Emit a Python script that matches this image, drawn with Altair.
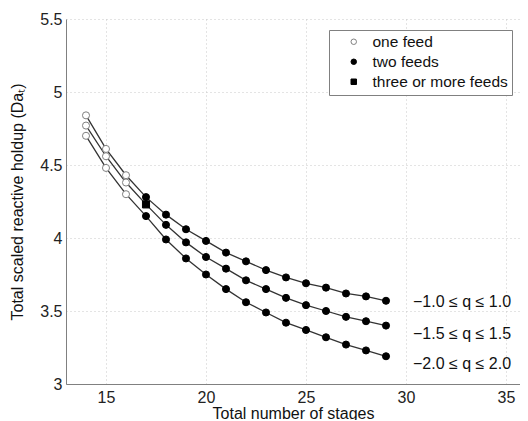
import altair as alt
import pandas as pd

stages = list(range(14, 30))
curve_names = ["−1.0 ≤ q ≤ 1.0", "−1.5 ≤ q ≤ 1.5", "−2.0 ≤ q ≤ 2.0"]
holdup_top = [4.84, 4.61, 4.43, 4.28, 4.16, 4.06, 3.98, 3.90, 3.84, 3.78, 3.73, 3.69, 3.66, 3.62, 3.60, 3.57]
holdup_mid = [4.77, 4.56, 4.38, 4.23, 4.09, 3.97, 3.87, 3.79, 3.71, 3.65, 3.59, 3.54, 3.50, 3.46, 3.43, 3.40]
holdup_bot = [4.70, 4.48, 4.30, 4.15, 3.99, 3.86, 3.75, 3.65, 3.56, 3.49, 3.42, 3.37, 3.32, 3.27, 3.23, 3.19]
feed_types = ["one feed", "two feeds", "three or more feeds"]
feeds_top = ["one feed"] * 3 + ["two feeds"] * 13
feeds_mid = ["one feed"] * 3 + ["three or more feeds"] + ["two feeds"] * 12
feeds_bot = ["one feed"] * 3 + ["two feeds"] * 13
label_x = [30.35, 30.35, 30.35]
label_y = [3.56, 3.34, 3.14]

rows = []
for name, ys, fs in zip(curve_names, [holdup_top, holdup_mid, holdup_bot], [feeds_top, feeds_mid, feeds_bot]):
    for s, y, f in zip(stages, ys, fs):
        rows.append({"curve": name, "stages": s, "holdup": y, "feed": f})
df = pd.DataFrame(rows)
labels_df = pd.DataFrame({"text": curve_names, "x": label_x, "y": label_y})

FONT = "Liberation Sans"
xscale = alt.Scale(domain=[13, 35.7], nice=False, zero=False)
yscale = alt.Scale(domain=[3, 5.5], nice=False, zero=False)

xaxis = alt.Axis(values=[15, 20, 25, 30, 35], title="Total number of stages", titlePadding=0, labelPadding=5)
yaxis = alt.Axis(values=[3, 3.5, 4, 4.5, 5, 5.5], labelExpr="'' + datum.value",
                 title="Total scaled reactive holdup (Daₜ)", titlePadding=14, labelPadding=4)

base = alt.Chart(df)
lines = base.mark_line(color="#333333", strokeWidth=1.3).encode(
    x=alt.X("stages:Q", scale=xscale, axis=xaxis),
    y=alt.Y("holdup:Q", scale=yscale, axis=yaxis),
    detail="curve:N",
)

feed_legend = alt.Legend(title=None)
points = base.mark_point(filled=True, size=50, strokeWidth=1, opacity=1).encode(
    x="stages:Q",
    y="holdup:Q",
    shape=alt.Shape("feed:N", scale=alt.Scale(domain=feed_types, range=["circle", "circle", "square"]), legend=feed_legend, title=None),
    fill=alt.Fill("feed:N", scale=alt.Scale(domain=feed_types, range=["#ffffff", "#000000", "#000000"]), legend=feed_legend, title=None),
    stroke=alt.Stroke("feed:N", scale=alt.Scale(domain=feed_types, range=["#808080", "#000000", "#000000"]), legend=feed_legend, title=None),
)

texts = alt.Chart(labels_df).mark_text(align="left", baseline="middle", fontSize=16, font=FONT, color="#111111").encode(
    x="x:Q", y="y:Q", text="text:N"
)

chart = alt.layer(lines, points, texts).properties(
    width=454, height=365,
    autosize=alt.AutoSizeParams(type="none"),
    padding={"left": 58, "top": 11, "right": 0, "bottom": 36},
).configure_view(stroke=None).configure_axis(
    labelFont=FONT, titleFont=FONT, labelFontSize=16, titleFontSize=16,
    labelColor="#222222", titleColor="#111111", titleFontWeight="normal",
    domainColor="#808080", domainWidth=1, tickSize=0,
    gridColor="#c8c8c8", gridDash=[1, 3], gridWidth=1,
).configure_legend(
    orient="none", legendX=263, legendY=11,
    labelFont=FONT, labelFontSize=15.5, labelColor="#111111",
    strokeColor="#808080", fillColor="#ffffff", padding=4, rowPadding=3,
    symbolSize=30, symbolOffset=13, labelOffset=11, symbolStrokeWidth=1,
)

chart.save("out.html", embed_options={"renderer": "svg", "actions": False})
